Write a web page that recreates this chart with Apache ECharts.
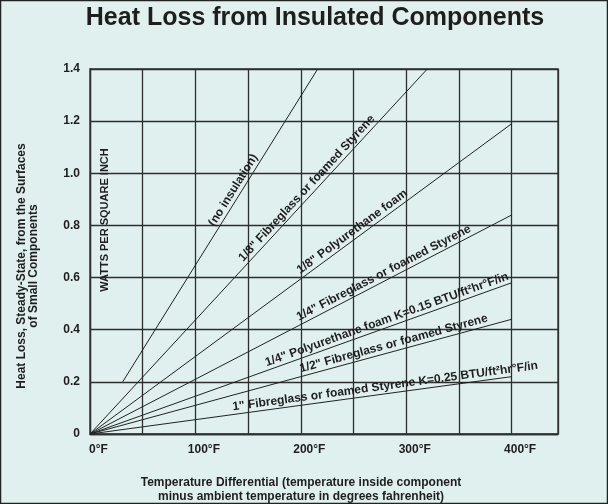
<!DOCTYPE html>
<html>
<head>
<meta charset="utf-8">
<script src="https://cdn.jsdelivr.net/npm/echarts@6/dist/echarts.min.js"></script>
<style>
html,body{margin:0;padding:0;background:#dff0ef;}
#chart{width:608px;height:504px;}
</style>
</head>
<body>
<div id="chart"></div>
<script>
// lines (heat loss vs temperature differential)
var lineNames = [
    '(no insulation)',
    '1/8" Fibreglass or foamed Styrene',
    '1/8" Polyurethane foam',
    '1/4" Fibreglass or foamed Styrene',
    '1/4" Polyurethane foam K=0.15 BTU/ft\u00b2hr\u00b0F/in',
    '1/2" Fibreglass or foamed Styrene',
    '1" Fibreglass or foamed Styrene K=0.25 BTU/ft\u00b2hr\u00b0F/in'
];
var startF = [31, 0, 0, 0, 0, 0, 0];
var startW = [0.2, 0, 0, 0, 0, 0, 0];
var endF = [216, 320, 400, 400, 400, 400, 400];
var endW = [1.4, 1.4, 1.19, 0.84, 0.58, 0.44, 0.22];
// where along each line (in degF) its caption sits
var labelAtF = [142, 211, 253, 282, 284, 290, 281];
var xTicks = [0, 100, 200, 300, 400];

var FONT = "'Liberation Sans', Arial, sans-serif";
var INK = '#1f1d1e';

var myChart = echarts.init(document.getElementById('chart'));

var series = [];
for (var i = 0; i < lineNames.length; i++) {
    series.push({
        name: lineNames[i],
        type: 'line',
        symbol: 'none',
        silent: true,
        lineStyle: {color: '#222', width: 1},
        data: [[startF[i], startW[i]], [endF[i], endW[i]]]
    });
}

option = {
    backgroundColor: '#dff0ef',
    animation: false,
    grid: {
        left: 90, right: 50, top: 69, bottom: 70,
        show: true, borderColor: '#2e2e2e', borderWidth: 1.3,
        backgroundColor: 'transparent'
    },
    xAxis: {
        type: 'value',
        min: 0, max: 444, interval: 50,
        axisLine: {show: true, lineStyle: {color: '#2e2e2e', width: 1.3}},
        axisTick: {show: false},
        splitLine: {show: true, lineStyle: {color: '#2e2e2e', width: 1.3}},
        axisLabel: {
            margin: 10,
            padding: [0, 0, 0, 17],
            fontFamily: FONT, fontSize: 12, fontWeight: 'bold', color: INK,
            formatter: function (v) {
                return xTicks.indexOf(v) >= 0 ? v + '\u00b0F' : '';
            }
        }
    },
    yAxis: {
        type: 'value',
        min: 0, max: 1.4, interval: 0.2,
        axisLine: {show: true, lineStyle: {color: '#2e2e2e', width: 1.3}},
        axisTick: {show: false},
        splitLine: {show: true, lineStyle: {color: '#2e2e2e', width: 1.3}},
        axisLabel: {
            margin: 10,
            fontFamily: FONT, fontSize: 12, fontWeight: 'bold', color: INK,
            formatter: function (v) {
                return v === 0 ? '0' : v.toFixed(1);
            }
        }
    },
    series: series
};

myChart.setOption(option);

// captions along the lines + titles
var graphics = [];
for (var k = 0; k < lineNames.length; k++) {
    var p0 = myChart.convertToPixel({gridIndex: 0}, [startF[k], startW[k]]);
    var p1 = myChart.convertToPixel({gridIndex: 0}, [endF[k], endW[k]]);
    var ang = Math.atan2(p0[1] - p1[1], p1[0] - p0[0]);
    var t = (labelAtF[k] - startF[k]) / (endF[k] - startF[k]);
    var px = p0[0] + t * (p1[0] - p0[0]);
    var py = p0[1] + t * (p1[1] - p0[1]);
    var gap = 7.5;
    graphics.push({
        type: 'text',
        x: px - Math.sin(ang) * gap,
        y: py - Math.cos(ang) * gap,
        rotation: ang,
        silent: true,
        style: {
            text: lineNames[k],
            font: 'bold 12px ' + FONT,
            fill: INK,
            align: 'center', verticalAlign: 'middle',
            textAlign: 'center', textVerticalAlign: 'middle'
        }
    });
}

graphics.push({
    type: 'text', x: 315, y: 18, silent: true,
    style: {
        text: 'Heat Loss from Insulated Components', font: 'bold 25px ' + FONT, fill: INK,
        align: 'center', verticalAlign: 'middle', textAlign: 'center', textVerticalAlign: 'middle'
    }
});
graphics.push({
    type: 'text', x: 105, y: 220, rotation: Math.PI / 2, silent: true,
    style: {
        text: 'WATTS PER SQUARE INCH', font: 'bold 11px ' + FONT, fill: INK,
        align: 'center', verticalAlign: 'middle', textAlign: 'center', textVerticalAlign: 'middle'
    }
});
graphics.push({
    type: 'text', x: 28, y: 266, rotation: Math.PI / 2, silent: true,
    style: {
        text: 'Heat Loss, Steady-State, from the Surfaces\nof Small Components',
        font: 'bold 12px ' + FONT, fill: INK, lineHeight: 12,
        align: 'center', verticalAlign: 'middle', textAlign: 'center', textVerticalAlign: 'middle'
    }
});
graphics.push({
    type: 'text', x: 301, y: 490, silent: true,
    style: {
        text: 'Temperature Differential (temperature inside component\nminus ambient temperature in degrees fahrenheit)',
        font: 'bold 12px ' + FONT, fill: INK, lineHeight: 14,
        align: 'center', verticalAlign: 'middle', textAlign: 'center', textVerticalAlign: 'middle'
    }
});
graphics.push({
    type: 'rect', silent: true,
    shape: {x: 0.5, y: 0.5, width: 607, height: 503},
    style: {fill: 'none', stroke: '#222', lineWidth: 1.5}
});

myChart.setOption({graphic: graphics});
</script>
</body>
</html>
